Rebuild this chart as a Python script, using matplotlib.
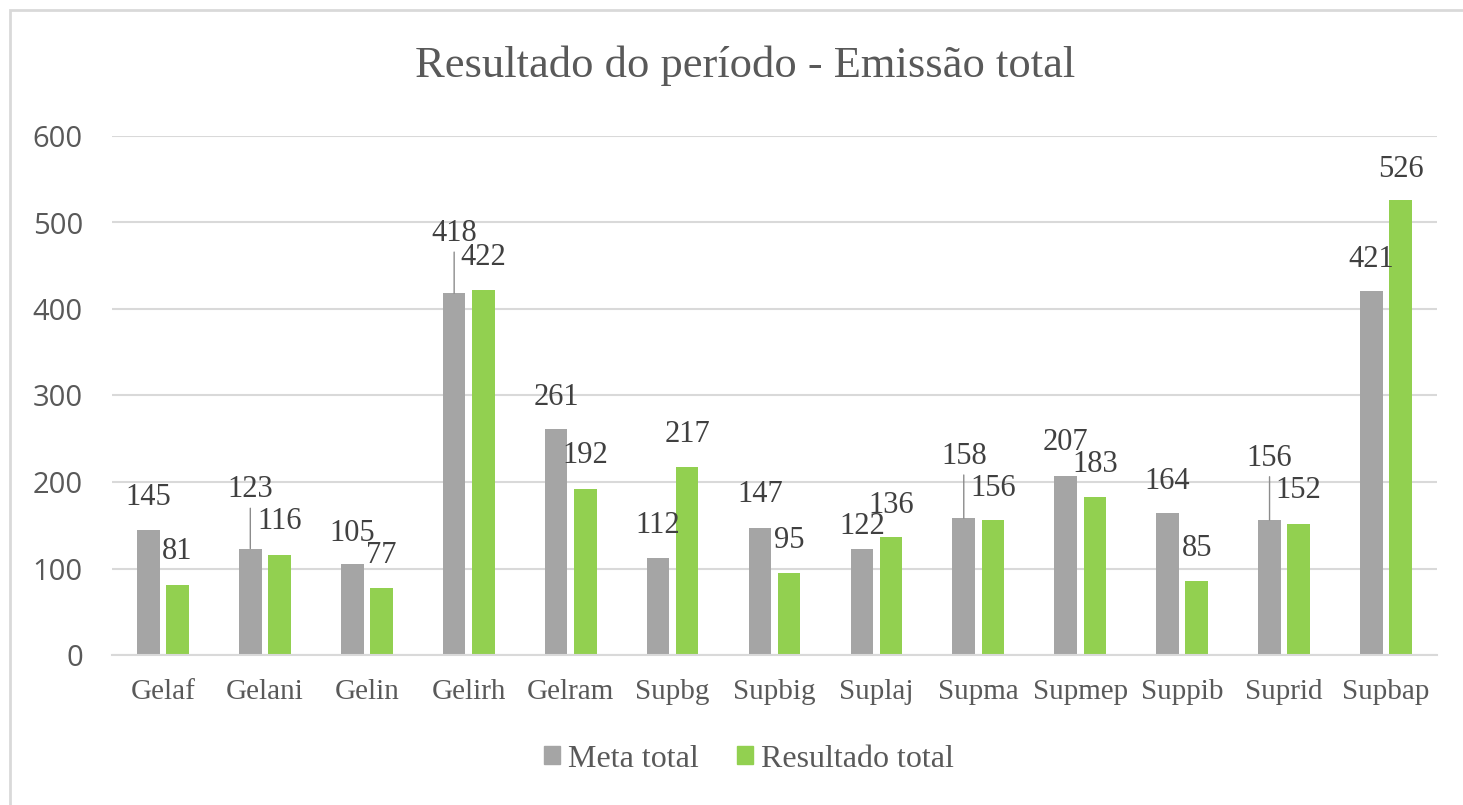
import numpy as np
import matplotlib
matplotlib.use('Agg')
import matplotlib.pyplot as plt
from matplotlib.patches import Rectangle, Patch

categories = ['Gelaf', 'Gelani', 'Gelin', 'Gelirh', 'Gelram', 'Supbg', 'Supbig',
              'Suplaj', 'Supma', 'Supmep', 'Suppib', 'Suprid', 'Supbap']
meta = [145, 123, 105, 418, 261, 112, 147, 122, 158, 207, 164, 156, 421]
resultado = [81, 116, 77, 422, 192, 217, 95, 136, 156, 183, 85, 152, 526]

# how far (pixels) each data label sits above its bar; moved ones get a leader line
meta_up = [32, 59, 31, 60, 32, 33, 33, 23, 62, 33, 32, 62, 31]
meta_leader = [False, True, False, True, False, False, False, False, True, False, False, True, False]
res_up = [33, 33, 33, 32, 33, 33, 32, 32, 32, 32, 33, 33, 31]

GRAY = '#A5A5A5'
GREEN = '#92D050'
TXT = '#595959'
SERIF = 'Liberation Serif'

fig = plt.figure(figsize=(14.63, 8.05), dpi=100)
fig.patch.set_facecolor('white')
ax = fig.add_axes([112 / 1463, 1 - 655 / 805, (1437 - 112) / 1463, (655 - 136) / 805])

x = np.arange(len(categories))
w = 0.222
off = 0.143
ax.bar(x - off, meta, w, color=GRAY, zorder=3)
ax.bar(x + off, resultado, w, color=GREEN, zorder=3)

for i in range(len(categories)):
    if meta_leader[i]:
        ax.annotate(str(meta[i]), xy=(x[i] - off, meta[i]), xytext=(0, meta_up[i]),
                    textcoords='offset pixels', ha='center', va='center',
                    fontsize=22, family=SERIF, color='#404040', zorder=5,
                    arrowprops=dict(arrowstyle='-', color='#8C8C8C', lw=1,
                                    shrinkA=1, shrinkB=0))
    else:
        ax.annotate(str(meta[i]), xy=(x[i] - off, meta[i]), xytext=(0, meta_up[i]),
                    textcoords='offset pixels', ha='center', va='center',
                    fontsize=22, family=SERIF, color='#404040', zorder=5)
    ax.annotate(str(resultado[i]), xy=(x[i] + off, resultado[i]), xytext=(0, res_up[i]),
                textcoords='offset pixels', ha='center', va='center',
                fontsize=22, family=SERIF, color='#404040', zorder=5)

ax.set_xlim(-0.5, len(categories) - 0.5)
ax.set_ylim(0, 600)
ax.set_yticks(range(0, 601, 100))
ax.yaxis.grid(True, color='#D9D9D9', lw=1.5, zorder=0)
for s in ['top', 'right', 'left']:
    ax.spines[s].set_visible(False)
ax.spines['bottom'].set_color('#D9D9D9')
ax.spines['bottom'].set_linewidth(1.5)
ax.spines['bottom'].set_zorder(4)

ax.set_xticks(x)
ax.set_xticklabels(categories, family=SERIF, fontsize=21, color=TXT)
ax.tick_params(axis='x', length=0, pad=17)
ax.tick_params(axis='y', length=0, pad=21, labelsize=21, labelcolor=TXT)
for lab in ax.get_yticklabels():
    lab.set_family('Open Sans')

fig.text(745 / 1463, 1 - 66 / 805, 'Resultado do período - Emissão total',
         ha='center', va='center', family=SERIF, fontsize=32, color=TXT)

handles = [Patch(color=GRAY, label='Meta total'), Patch(color=GREEN, label='Resultado total')]
leg = fig.legend(handles=handles, loc='center', bbox_to_anchor=(749 / 1463, 1 - 759 / 805),
                 ncol=2, frameon=False, prop={'family': SERIF, 'size': 23},
                 handlelength=0.5, handleheight=0.5, handletextpad=0.25, columnspacing=1.2)
for t in leg.get_texts():
    t.set_color(TXT)

# chart border (only top and left edges fall inside the picture)
fig.patches.append(Rectangle((10 / 1463, -0.1), 1.2, 1.1 - 10 / 805, transform=fig.transFigure,
                             fill=False, edgecolor='#D9D9D9', lw=2, figure=fig))

fig.savefig('out.png', dpi=100)
